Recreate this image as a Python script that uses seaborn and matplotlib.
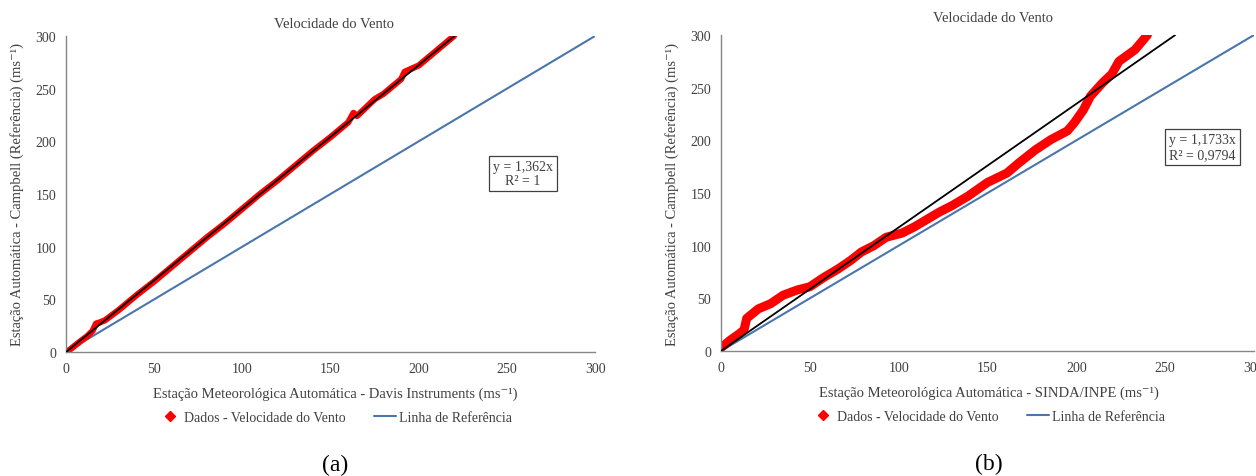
import numpy as np
import pandas as pd
import seaborn as sns
import matplotlib.pyplot as plt
from matplotlib.lines import Line2D

# (a) Davis Instruments x Campbell
davis_x = [0, 2, 5, 8, 12, 15, 17, 19, 22, 30, 40, 50, 60, 70, 80, 90, 100, 110,
           120, 130, 140, 150, 160, 163, 165, 170, 175, 180, 190, 192, 200, 210, 220]
davis_y = [0, 2, 6, 10, 15, 20, 27, 28, 30, 40, 54, 67, 81, 95, 109, 122, 136, 150,
           163, 177, 191, 204, 218, 227, 224, 232, 240, 245, 259, 266, 272, 286, 300]
slope_a = 1.362

# (b) SINDA/INPE x Campbell
sinda_x = [0, 5, 10, 13, 14.5, 21, 28, 35, 43, 50, 58, 66, 73, 79, 86, 93, 102, 109,
           116, 123, 130, 139, 150, 161, 168, 177, 186, 195, 199, 204, 208, 215, 220,
           224, 233, 240]
sinda_y = [3, 10, 16, 20, 31, 40, 45, 53, 58, 61, 70, 78, 86, 94, 100, 108, 112, 118,
           125, 132, 138, 147, 160, 169, 179, 191, 201, 209, 217, 229, 242, 255, 263,
           275, 286, 300]
slope_b = 1.1733

ref = [0, 300]
ticks = [0, 50, 100, 150, 200, 250, 300]

red = '#ff0000'
blue = '#4a76ad'
txt = '#404040'
grey = '#868686'

sns.set_style('white')
plt.rcParams['font.family'] = ['Liberation Serif', 'DejaVu Serif']

fig = plt.figure(figsize=(12.56, 4.77), dpi=100)
ax1 = fig.add_axes([0.0526, 0.26, 0.4212, 0.6625])
ax2 = fig.add_axes([0.574, 0.262, 0.4244, 0.6625])

panels = [
    (ax1, davis_x, davis_y, slope_a, 4.5, 'y = 1,362x\nR² = 1', (0.864, 0.565),
     'Estação Meteorológica Automática - Davis Instruments (ms⁻¹)', 0.509, '(a)'),
    (ax2, sinda_x, sinda_y, slope_b, 6.5, 'y = 1,1733x\nR² = 0,9794', (0.903, 0.645),
     'Estação Meteorológica Automática - SINDA/INPE (ms⁻¹)', 0.502, '(b)'),
]

for ax, xs, ys, slope, lw, eq, eqpos, xlab, cx, cap in panels:
    df = pd.DataFrame({'x': xs, 'y': ys})
    ax.plot(ref, ref, color=blue, lw=1.5, zorder=1)
    sns.lineplot(data=df, x='x', y='y', ax=ax, color=red, lw=lw, sort=False,
                 solid_capstyle='round', solid_joinstyle='round', zorder=2)
    # trend line through the origin, up to the top of the axis
    xe = 300 / slope
    ax.plot([0, xe], [0, slope * xe], color='black', lw=1.3, zorder=3)

    ax.set_xlim(0, 300)
    ax.set_ylim(0, 300)
    ax.set_xticks(ticks)
    ax.set_yticks(ticks)
    ax.tick_params(axis='both', direction='out', length=4, width=1, color=grey,
                   labelsize=10, labelcolor=txt, pad=3)
    for s in ['top', 'right']:
        ax.spines[s].set_visible(False)
    for s in ['left', 'bottom']:
        ax.spines[s].set_color(grey)
        ax.spines[s].set_linewidth(1)
    ax.set_xlabel('')
    ax.set_ylabel('')

    ax.text(eqpos[0], eqpos[1], eq, transform=ax.transAxes, ha='center', va='center',
            fontsize=10, color=txt, linespacing=1.15,
            bbox=dict(boxstyle='square,pad=0.3', fc='white', ec='#404040', lw=0.9))

    ax.text(cx, -0.132, xlab, transform=ax.transAxes, ha='center', va='center',
            fontsize=10.5, color=txt)

    handles = [Line2D([], [], color=red, marker='D', ls='none', markersize=5),
               Line2D([], [], color=blue, lw=1.5)]
    ax.legend(handles, ['Dados - Velocidade do Vento', 'Linha de Referência'],
              loc='center', bbox_to_anchor=(cx, -0.208), ncol=2, frameon=False,
              fontsize=10, handlelength=1.6, handletextpad=0.2, columnspacing=2.0,
              labelcolor=txt)

    ax.text(cx, -0.355, cap, transform=ax.transAxes, ha='center', va='center',
            fontsize=17, color='black')

fig.text(334 / 1256, 1 - 24 / 477, 'Velocidade do Vento', ha='center', va='center',
         fontsize=10.5, color=txt)
fig.text(993 / 1256, 1 - 18 / 477, 'Velocidade do Vento', ha='center', va='center',
         fontsize=10.5, color=txt)

ylab = 'Estação Automática - Campbell (Referência) (ms⁻¹)'
fig.text(17 / 1256, 1 - 195 / 477, ylab, rotation=90, ha='center', va='center',
         fontsize=10.5, color=txt)
fig.text(672 / 1256, 1 - 195 / 477, ylab, rotation=90, ha='center', va='center',
         fontsize=10.5, color=txt)

fig.savefig('out.png', dpi=100)
